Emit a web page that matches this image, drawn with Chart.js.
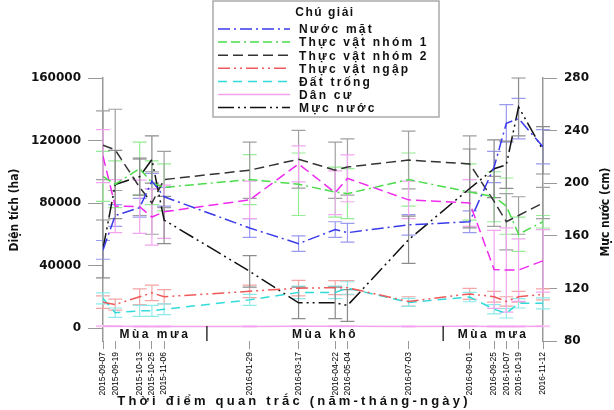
<!DOCTYPE html>
<html>
<head>
<meta charset="utf-8">
<title>Diện tích lớp phủ và mực nước</title>
<script src="https://cdn.jsdelivr.net/npm/chart.js@4.4.0/dist/chart.umd.min.js"></script>
<style>
    html, body { margin: 0; padding: 0; background: #fff; }
    #wrap { width: 614px; height: 410px; }
</style>
</head>
<body>
<div id="wrap"><canvas id="chart" width="614" height="410"></canvas></div>

<script>
    // ngay quan trac
    var dates = ['2015-09-07', '2015-09-19', '2015-10-13', '2015-10-25', '2015-11-06',
                 '2016-01-29', '2016-03-17', '2016-04-22', '2016-05-04', '2016-07-03',
                 '2016-09-01', '2016-09-25', '2016-10-07', '2016-10-19', '2016-11-12'];

    // dien tich (ha) va sai so
    var nuocMat      = [50000, 72000, 77000, 94000, 84000, 64000, 54000, 63000, 61000, 66000, 68000, 103000, 131000, 134000, 116000];
    var nuocMatErr   = [6000, 7000, 6000, 5000, 6000, 6000, 5000, 5000, 6000, 6500, 7000, 10000, 12000, 13000, 11000];
    var thucVat1     = [97000, 92000, 102000, 93000, 90000, 95000, 92000, 87000, 86000, 95000, 87000, 84000, 78000, 60000, 68000];
    var thucVat1Err  = [16000, 15000, 17000, 14000, 15000, 16000, 20000, 16000, 16000, 17000, 18000, 16000, 18000, 11000, 4000];
    var thucVat2     = [117000, 114000, 90000, 80000, 95000, 101000, 108000, 101000, 103000, 107500, 105000, 81000, 68000, 72000, 80000];
    var thucVat2Err  = [22000, 26000, 18000, 20000, 18000, 18000, 18500, 18000, 18000, 18500, 18000, 16000, 18000, 12000, 10000];
    var thucVatNgap  = [16500, 15000, 20000, 22500, 20000, 23500, 25500, 25800, 25800, 17000, 21800, 20000, 17000, 20000, 21500];
    var thucVatNgapErr = [4000, 3500, 5000, 5000, 4500, 4000, 5000, 4500, 4500, 3000, 3500, 3500, 3000, 3500, 3500];
    var datTrong     = [19000, 9800, 11000, 11000, 12000, 18000, 22800, 22800, 25600, 16400, 19800, 12000, 9400, 15800, 15800];
    var datTrongErr  = [3500, 3000, 3500, 3500, 3500, 3500, 4000, 4000, 4000, 2500, 3000, 3000, 3000, 3000, 3500];
    var danCu        = [1200, 1100, 1000, 1000, 1000, 1000, 1100, 1100, 1100, 1000, 1100, 1000, 1000, 1000, 1100];
    var danCuErr     = [300, 300, 300, 300, 300, 300, 300, 300, 300, 300, 300, 300, 300, 300, 300];
    // duong hong khong co trong chu giai
    var khac         = [110000, 78000, 77600, 71000, 74400, 82000, 105000, 86600, 95800, 82000, 80000, 37500, 37100, 37100, 43000];
    var khacErr      = [17000, 17000, 17000, 18000, 17000, 12000, 11500, 14000, 15000, 12000, 15000, 25000, 27000, 20000, 20000];

    // muc nuoc (cm), truc phai
    var mucNuoc      = [150, 199, 205, 218, 172, 133, 109, 109, 107, 157, 196, 211, 214, 258, 225];
    var mucNuocErr   = [22, 26, 14, 18, 18, 12, 12, 12, 12, 18, 30, 22, 18, 22, 18];

    var leftTicks  = [0, 40000, 80000, 120000, 160000];
    var rightTicks = [80, 120, 160, 200, 240, 280];

    var seasons      = ['Mùa mưa', 'Mùa khô', 'Mùa mưa'];
    var seasonBreaks = ['2015-12-18', '2016-08-06'];

    //days since first observation, used as x position
    function dayOf(s) {
        var p = s.split('-');
        var p0 = dates[0].split('-');
        return (Date.UTC(+p[0], p[1] - 1, +p[2]) - Date.UTC(+p0[0], p0[1] - 1, +p0[2])) / 86400000;
    }
    function pts(arr) {
        return arr.map(function (v, i) { return { x: dayOf(dates[i]), y: v }; });
    }
    function line(label, arr, err, color, errColor, dash, axis, inLegend) {
        return {
            label: label, data: pts(arr), errors: err, errorColor: errColor,
            borderColor: color, borderDash: dash, borderWidth: 1.5,
            pointRadius: 0, tension: 0, fill: false,
            yAxisID: axis || 'y', inLegend: inLegend !== false
        };
    }

    var datasets = [
        line('Nước mặt', nuocMat, nuocMatErr, '#3a3aea', '#9a9af0', [12, 4, 2, 4]),
        line('Thực vật nhóm 1', thucVat1, thucVat1Err, '#4cdc4c', '#94ec94', [9, 4, 9, 4, 2, 4]),
        line('Thực vật nhóm 2', thucVat2, thucVat2Err, '#333333', '#a0a0a0', [10, 5]),
        line('Thực vật ngập', thucVatNgap, thucVatNgapErr, '#ee5a5a', '#f3a4a4', [12, 4, 2, 4, 2, 4]),
        line('Đất trống', datTrong, datTrongErr, '#33dada', '#8eeaea', [9, 6]),
        line('Dân cư', danCu, danCuErr, '#f2a2ee', '#f6c8f2', []),
        line('Khác', khac, khacErr, '#ee2aee', '#f0a6ee', [10, 5], 'y', false),
        line('Mực nước', mucNuoc, mucNuocErr, '#111111', '#8c8c8c', [16, 4, 2, 4, 2, 4], 'y1')
    ];

    var errorBars = {
        id: 'errorBars',
        beforeDatasetsDraw: function (chart) {
            var ctx = chart.ctx;
            chart.data.datasets.forEach(function (ds, i) {
                var meta = chart.getDatasetMeta(i);
                var ys = chart.scales[ds.yAxisID];
                ctx.save();
                ctx.strokeStyle = ds.errorColor;
                ctx.lineWidth = 1.2;
                meta.data.forEach(function (pt, j) {
                    var v = ds.data[j].y, e = ds.errors[j];
                    var t = ys.getPixelForValue(v + e), b = ys.getPixelForValue(v - e);
                    ctx.beginPath();
                    ctx.moveTo(pt.x, t); ctx.lineTo(pt.x, b);
                    ctx.moveTo(pt.x - 7, t); ctx.lineTo(pt.x + 7, t);
                    ctx.moveTo(pt.x - 7, b); ctx.lineTo(pt.x + 7, b);
                    ctx.stroke();
                });
                ctx.restore();
            });
        }
    };

    var decor = {
        id: 'decor',
        afterDraw: function (chart) {
            var ctx = chart.ctx, xs = chart.scales.x, area = chart.chartArea;
            ctx.save();
            ctx.fillStyle = '#111';
            ctx.textBaseline = 'middle';
            ctx.textAlign = 'center';

            // season band
            var cuts = [area.left].concat(seasonBreaks.map(function (d) { return xs.getPixelForValue(dayOf(d)); }), [area.right]);
            ctx.strokeStyle = '#333';
            ctx.lineWidth = 1.5;
            seasonBreaks.forEach(function (d) {
                var x = xs.getPixelForValue(dayOf(d));
                ctx.beginPath(); ctx.moveTo(x, area.bottom - 15); ctx.lineTo(x, area.bottom); ctx.stroke();
            });
            ctx.font = 'bold 12px "Liberation Sans", Arial, sans-serif';
            ctx.letterSpacing = '2.5px';
            seasons.forEach(function (s, k) { ctx.fillText(s, (cuts[k] + cuts[k + 1]) / 2, area.bottom - 6); });

            // axis titles
            ctx.letterSpacing = '3.2px';
            ctx.font = 'bold 13px "Liberation Sans", Arial, sans-serif';
            ctx.fillText('Thời điểm quan trắc (năm-tháng-ngày)', 294, 401);
            ctx.letterSpacing = '0px';
            ctx.font = 'bold 12px "Liberation Sans Narrow", "DejaVu Sans Condensed", sans-serif';
            ctx.save(); ctx.translate(15, 210); ctx.rotate(-Math.PI / 2);
            ctx.fillText('Diện tích (ha)', 0, 0); ctx.restore();
            ctx.save(); ctx.translate(606, 212); ctx.rotate(-Math.PI / 2);
            ctx.fillText('Mực nước (cm)', 0, 0); ctx.restore();

            // legend box
            ctx.fillStyle = '#fff';
            ctx.fillRect(213, 1, 226, 116);
            ctx.strokeStyle = '#aaa';
            ctx.lineWidth = 1.5;
            ctx.strokeRect(213, 1, 226, 116);
            ctx.fillStyle = '#111';
            ctx.letterSpacing = '1.5px';
            ctx.font = 'bold 12px "Liberation Sans", Arial, sans-serif';
            ctx.fillText('Chú giải', 325, 13);
            ctx.textAlign = 'left';
            ctx.letterSpacing = '2.2px';
            var k = 0;
            chart.data.datasets.forEach(function (ds) {
                if (!ds.inLegend) return;
                var y = 29 + k * 13.1;
                ctx.strokeStyle = ds.borderColor;
                ctx.lineWidth = 1.5;
                ctx.setLineDash(ds.borderDash);
                ctx.beginPath(); ctx.moveTo(218, y); ctx.lineTo(290, y); ctx.stroke();
                ctx.setLineDash([]);
                ctx.fillText(ds.label, 299, y + 1);
                k++;
            });
            ctx.restore();
        }
    };

    var ctx = document.getElementById('chart').getContext('2d');
    var myChart = new Chart(ctx, {
        type: 'line',
        data: { datasets: datasets },
        plugins: [errorBars, decor],
        options: {
            responsive: false,
            animation: false,
            layout: { padding: { top: 78, left: 0, right: 0, bottom: 0 } },
            plugins: { legend: { display: false }, tooltip: { enabled: false } },
            scales: {
                x: {
                    type: 'linear',
                    min: 0,
                    max: dayOf(dates[dates.length - 1]),
                    afterFit: function (s) { s.height = 69; },
                    afterBuildTicks: function (s) {
                        s.ticks = dates.map(function (d) { return { value: dayOf(d) }; });
                    },
                    ticks: {
                        autoSkip: false, minRotation: 90, maxRotation: 90, padding: 3,
                        color: '#000',
                        font: { family: '"Liberation Sans", Arial, sans-serif', size: 8.5 },
                        callback: function (v) {
                            var i = dates.map(dayOf).indexOf(v);
                            return i >= 0 ? dates[i] : '';
                        }
                    },
                    grid: { display: true, drawOnChartArea: false, tickLength: 8, color: '#999' },
                    border: { display: false }
                },
                y: {
                    position: 'left',
                    min: -8320,
                    max: 160000,
                    afterFit: function (s) { s.width = 103; },
                    afterBuildTicks: function (s) {
                        s.ticks = leftTicks.map(function (v) { return { value: v }; });
                    },
                    ticks: {
                        padding: 7, color: '#111',
                        font: { family: '"DejaVu Sans", sans-serif', size: 12, weight: 'bold' },
                        callback: function (v) { return String(v); }
                    },
                    grid: { display: true, drawOnChartArea: false, tickLength: 15, color: '#999' },
                    border: { display: true, color: '#999', width: 1.5 }
                },
                y1: {
                    position: 'right',
                    min: 80,
                    max: 280,
                    afterFit: function (s) { s.width = 71; },
                    afterBuildTicks: function (s) {
                        s.ticks = rightTicks.map(function (v) { return { value: v }; });
                    },
                    ticks: {
                        padding: 7, color: '#111',
                        font: { family: '"DejaVu Sans", sans-serif', size: 12, weight: 'bold' },
                        callback: function (v) { return String(v); }
                    },
                    grid: { display: true, drawOnChartArea: false, tickLength: 14, color: '#999' },
                    border: { display: true, color: '#999', width: 1.5 }
                }
            }
        }
    });
</script>
</body>
</html>
